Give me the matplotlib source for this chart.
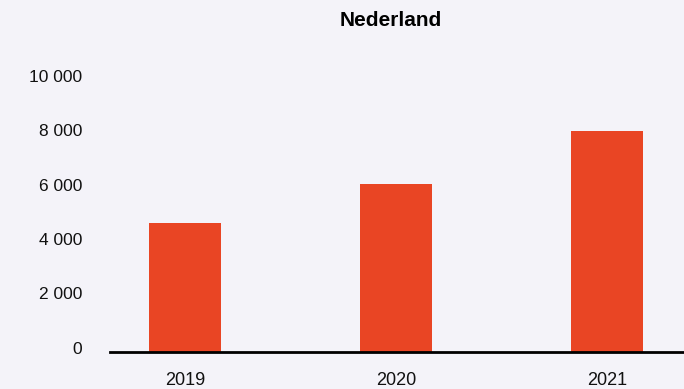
import matplotlib.pyplot as plt
import matplotlib.transforms as mtransforms
from matplotlib.ticker import FuncFormatter

# データ
jaren = ["2019", "2020", "2021"]
waarden = [4750, 6180, 8140]
y_ticks = [0, 2000, 4000, 6000, 8000, 10000]

achtergrond = "#f4f3f9"
balk_kleur = "#e94524"

plt.rcParams["font.family"] = ["Liberation Sans", "DejaVu Sans"]

fig = plt.figure(figsize=(6.84, 3.89), dpi=100, facecolor=achtergrond)
ax = fig.add_axes([110 / 684, 37 / 389, 1 - 110 / 684, (352 - 80.5) / 389])
ax.set_facecolor(achtergrond)

x = range(len(jaren))
ax.bar(x, waarden, width=72 / 211, color=balk_kleur)

ax.set_xlim(-75 / 211, 2 + 77 / 211)
ax.set_ylim(0, 10000)
ax.set_xticks(list(x))
ax.set_xticklabels(jaren)
ax.set_yticks(y_ticks)
ax.yaxis.set_major_formatter(FuncFormatter(lambda v, p: f"{int(v):,}".replace(",", " ")))

for s in ["top", "right", "left"]:
    ax.spines[s].set_visible(False)
ax.spines["bottom"].set_linewidth(2)
ax.spines["bottom"].set_color("black")

ax.tick_params(axis="y", length=0, pad=20, labelsize=12.5, labelcolor="#111111")
ax.tick_params(axis="x", length=0, pad=14.5, labelsize=13, labelcolor="#111111")

# y-labels iets omhoog
offset = mtransforms.ScaledTranslation(0, 4.5 / 100, fig.dpi_scale_trans)
for lab in ax.get_yticklabels():
    lab.set_transform(lab.get_transform() + offset)

fig.text(391 / 684, 1 - 21 / 389, "Nederland", ha="center", va="center",
         fontsize=15, fontweight="bold")

fig.savefig("out.png", dpi=100, facecolor=achtergrond)
